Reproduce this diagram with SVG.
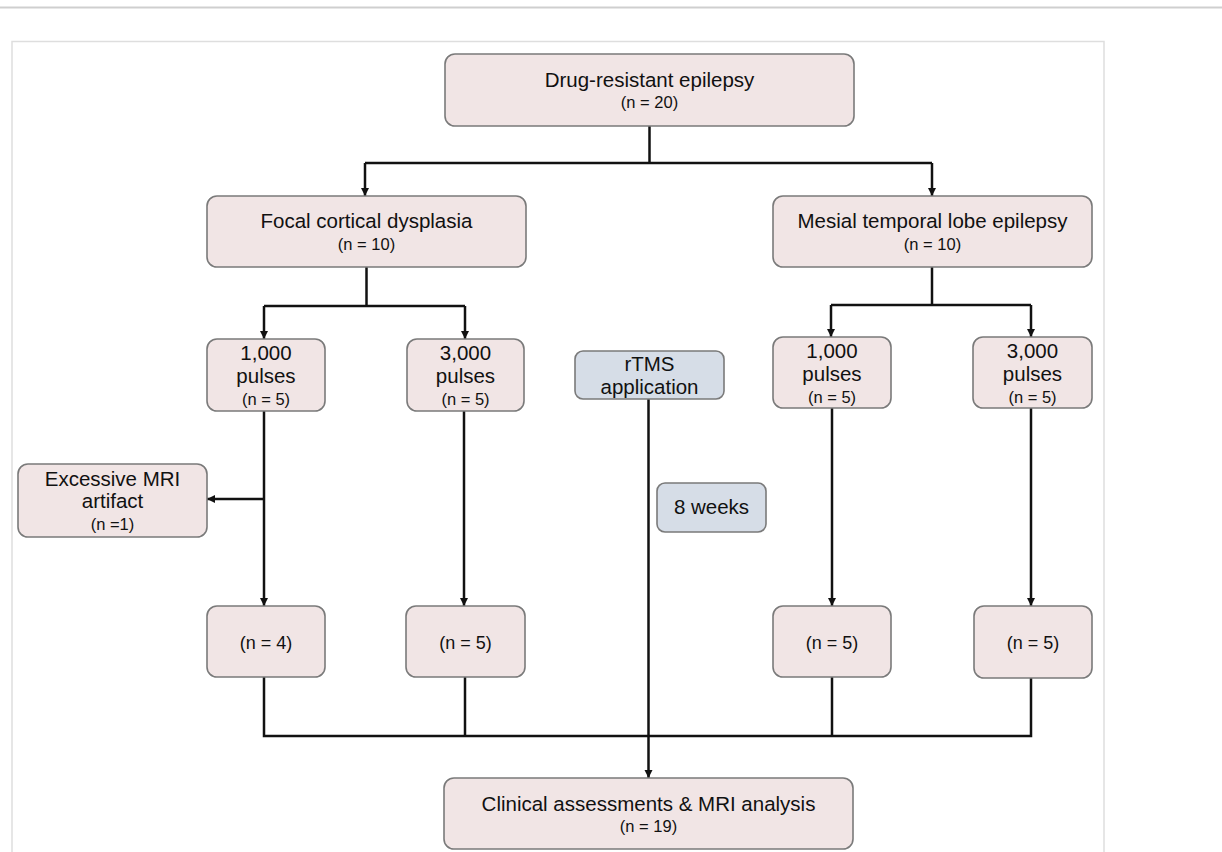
<svg xmlns="http://www.w3.org/2000/svg" width="1222" height="852" viewBox="0 0 1222 852">
<style>
.pink{fill:#f1e5e5;stroke:#7a7a7a;stroke-width:1.6}
.blue{fill:#d6dde7;stroke:#7a7a7a;stroke-width:1.6}
.t{font-family:"Liberation Sans",Arial,sans-serif;font-size:20.5px;fill:#111;text-anchor:middle}
.s{font-family:"Liberation Sans",Arial,sans-serif;font-size:16.5px;fill:#111;text-anchor:middle}
.b{font-family:"Liberation Sans",Arial,sans-serif;font-size:18px;fill:#111;text-anchor:middle}
.ln{fill:none;stroke:#111;stroke-width:2.5}
.arr{marker-end:url(#ah)}
</style>
<defs>
<marker id="ah" viewBox="0 0 10 10" markerWidth="8" markerHeight="9" refX="10" refY="5" orient="auto" markerUnits="userSpaceOnUse">
<path d="M0,0 L10,5 L0,10 z" fill="#111"/>
</marker>
</defs>
<rect x="0" y="0" width="1222" height="852" fill="#fff"/>
<line x1="0" y1="7.5" x2="1222" y2="7.5" stroke="#cfcfcf" stroke-width="2"/>
<rect x="12" y="41.5" width="1092" height="830" fill="none" stroke="#dedede" stroke-width="1.5"/>

<g id="connectors">
<path class="ln" d="M649.5,126 V163"/>
<path class="ln" d="M365,163 H932"/>
<path class="ln arr" d="M365,163 V196"/>
<path class="ln arr" d="M932,163 V196"/>
<path class="ln" d="M366.5,267 V306"/>
<path class="ln" d="M264,306 H465"/>
<path class="ln arr" d="M264,306 V339"/>
<path class="ln arr" d="M465,306 V339"/>
<path class="ln" d="M932,267 V305"/>
<path class="ln" d="M831,305 H1031"/>
<path class="ln arr" d="M831,305 V337"/>
<path class="ln arr" d="M1031,305 V337"/>
<path class="ln arr" d="M264,411 V606"/>
<path class="ln arr" d="M264,499 H207"/>
<path class="ln arr" d="M464,411 V606"/>
<path class="ln arr" d="M832,408 V606"/>
<path class="ln arr" d="M1031,408 V606"/>
<path class="ln" d="M264,677 V736 H1031 V678"/>
<path class="ln" d="M465,677 V736"/>
<path class="ln" d="M832,677 V736"/>
<path class="ln arr" d="M648.5,399 V778"/>
</g>

<g id="n-top">
<rect class="pink" x="445" y="54" width="409" height="72" rx="10"/>
<text class="t" x="649.5" y="87">Drug-resistant epilepsy</text>
<text class="s" x="649.5" y="108">(n = 20)</text>
</g>
<g id="n-fcd">
<rect class="pink" x="207" y="196" width="319" height="71" rx="10"/>
<text class="t" x="366.5" y="228">Focal cortical dysplasia</text>
<text class="s" x="366.5" y="250">(n = 10)</text>
</g>
<g id="n-mtle">
<rect class="pink" x="773" y="196" width="319" height="71" rx="10"/>
<text class="t" x="932.5" y="228">Mesial temporal lobe epilepsy</text>
<text class="s" x="932.5" y="250">(n = 10)</text>
</g>
<g id="n-fcd-1000">
<rect class="pink" x="207" y="339" width="118" height="72" rx="10"/>
<text class="t" x="266" y="360">1,000</text>
<text class="t" x="266" y="383">pulses</text>
<text class="s" x="266" y="405">(n = 5)</text>
</g>
<g id="n-fcd-3000">
<rect class="pink" x="407" y="339" width="117" height="72" rx="10"/>
<text class="t" x="465.5" y="360">3,000</text>
<text class="t" x="465.5" y="383">pulses</text>
<text class="s" x="465.5" y="405">(n = 5)</text>
</g>
<g id="n-mtle-1000">
<rect class="pink" x="773" y="337" width="118" height="71" rx="10"/>
<text class="t" x="832" y="358">1,000</text>
<text class="t" x="832" y="381">pulses</text>
<text class="s" x="832" y="403">(n = 5)</text>
</g>
<g id="n-mtle-3000">
<rect class="pink" x="973" y="337" width="119" height="71" rx="10"/>
<text class="t" x="1032.5" y="358">3,000</text>
<text class="t" x="1032.5" y="381">pulses</text>
<text class="s" x="1032.5" y="403">(n = 5)</text>
</g>
<g id="n-rtms">
<rect class="blue" x="575" y="351" width="149" height="48" rx="8"/>
<text class="t" x="649.5" y="371">rTMS</text>
<text class="t" x="649.5" y="394">application</text>
</g>
<g id="n-8weeks">
<rect class="blue" x="657" y="483" width="109" height="49" rx="8"/>
<text class="t" x="711.5" y="514">8 weeks</text>
</g>
<g id="n-excl">
<rect class="pink" x="18" y="464" width="189" height="73" rx="10"/>
<text class="t" x="112.5" y="486">Excessive MRI</text>
<text class="t" x="112.5" y="508">artifact</text>
<text class="s" x="112.5" y="530">(n =1)</text>
</g>
<g id="n-fcd-1000-out">
<rect class="pink" x="207" y="606" width="118" height="71" rx="10"/>
<text class="b" x="266" y="649">(n = 4)</text>
</g>
<g id="n-fcd-3000-out">
<rect class="pink" x="406" y="606" width="119" height="71" rx="10"/>
<text class="b" x="465.5" y="649">(n = 5)</text>
</g>
<g id="n-mtle-1000-out">
<rect class="pink" x="773" y="606" width="118" height="71" rx="10"/>
<text class="b" x="832" y="649">(n = 5)</text>
</g>
<g id="n-mtle-3000-out">
<rect class="pink" x="974" y="606" width="118" height="72" rx="10"/>
<text class="b" x="1033" y="649">(n = 5)</text>
</g>
<g id="n-final">
<rect class="pink" x="444" y="778" width="409" height="71" rx="10"/>
<text class="t" x="648.5" y="811">Clinical assessments &amp; MRI analysis</text>
<text class="s" x="648.5" y="832">(n = 19)</text>
</g>
</svg>
